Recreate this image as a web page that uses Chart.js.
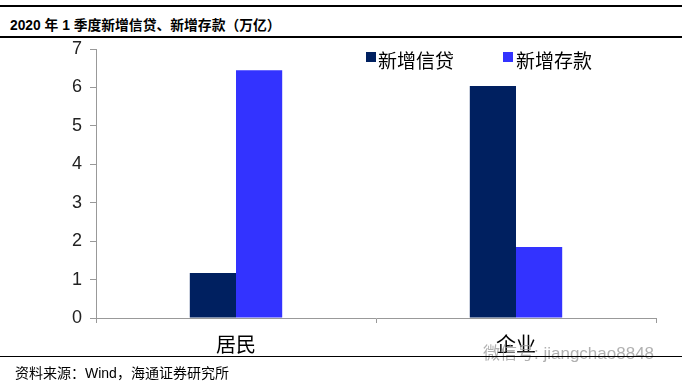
<!DOCTYPE html>
<html><head><meta charset="utf-8">
<script src="https://cdn.jsdelivr.net/npm/chart.js@4"></script>
<style>
html,body{margin:0;padding:0;background:#fff;}
#wrap{position:relative;width:682px;height:382px;overflow:hidden;}
canvas{position:absolute;left:0;top:0;}
.hl{position:absolute;left:0;width:682px;background:#000;}
.t{position:absolute;white-space:nowrap;line-height:1;}
#title{left:10px;top:14px;font:bold 13.8px "Liberation Sans","Noto Sans CJK SC",sans-serif;color:#000;}
#src{left:15px;top:362px;font:14px "Liberation Sans","Noto Sans CJK SC",sans-serif;color:#000;}
.lg{font:19px "Noto Sans CJK SC",sans-serif;color:#000;top:46px;}
.sw{position:absolute;width:10px;height:10px;top:52px;}
#wm{left:483px;top:339px;font:17px "Liberation Sans","Noto Sans CJK SC",sans-serif;color:rgba(150,150,150,0.75);}
</style></head>
<body><div id="wrap">
<div class="hl" style="top:5px;height:2px"></div>
<div class="t" id="title">2020 年 1 季度新增信贷、新增存款（万亿）</div>
<div class="hl" style="top:36px;height:2px"></div>
<canvas id="c" width="682" height="382"></canvas>
<div class="sw" style="left:366px;background:#002060"></div>
<div class="t lg" style="left:378px">新增信贷</div>
<div class="sw" style="left:503px;background:#3333FF"></div>
<div class="t lg" style="left:516px">新增存款</div>
<div class="t" id="wm">微信号: jiangchao8848</div>
<div class="hl" style="top:356px;height:1px"></div>
<div class="t" id="src">资料来源：Wind，海通证券研究所</div>
</div>
<script>
const categories = ["居民", "企业"];
const seriesNames = ["新增信贷", "新增存款"];
const newLoans = [1.17, 6.04];
const newDeposits = [6.45, 1.85];
const yTicks = [0, 1, 2, 3, 4, 5, 6, 7];

new Chart(document.getElementById('c'), {
  type: 'bar',
  data: {
    labels: categories,
    datasets: [
      {label: seriesNames[0], data: newLoans, backgroundColor: '#002060', borderWidth: 0},
      {label: seriesNames[1], data: newDeposits, backgroundColor: '#3333FF', borderWidth: 0}
    ]
  },
  options: {
    responsive: false,
    animation: false,
    devicePixelRatio: 1,
    layout: {padding: {left: 0, right: 26, top: 49, bottom: 0}},
    plugins: {legend: {display: false}, tooltip: {enabled: false}},
    datasets: {bar: {categoryPercentage: 0.33, barPercentage: 1}},
    scales: {
      x: {
        grid: {offset: true, drawOnChartArea: false, drawTicks: true, tickLength: 5, color: '#999'},
        border: {color: '#999', width: 1},
        ticks: {color: '#000', font: {family: '"Noto Sans CJK SC"', size: 20}, padding: 9},
        afterFit: s => { s.height = 64; }
      },
      y: {
        min: 0, max: 7,
        afterBuildTicks: s => { s.ticks = yTicks.map(v => ({value: v})); },
        grid: {drawOnChartArea: false, drawTicks: true, tickLength: 6, color: '#999'},
        border: {color: '#999', width: 1},
        ticks: {color: '#222', font: {family: '"Liberation Sans"', size: 18}, padding: 8},
        afterFit: s => { s.width = 96; }
      }
    }
  }
});
</script>
</body></html>
